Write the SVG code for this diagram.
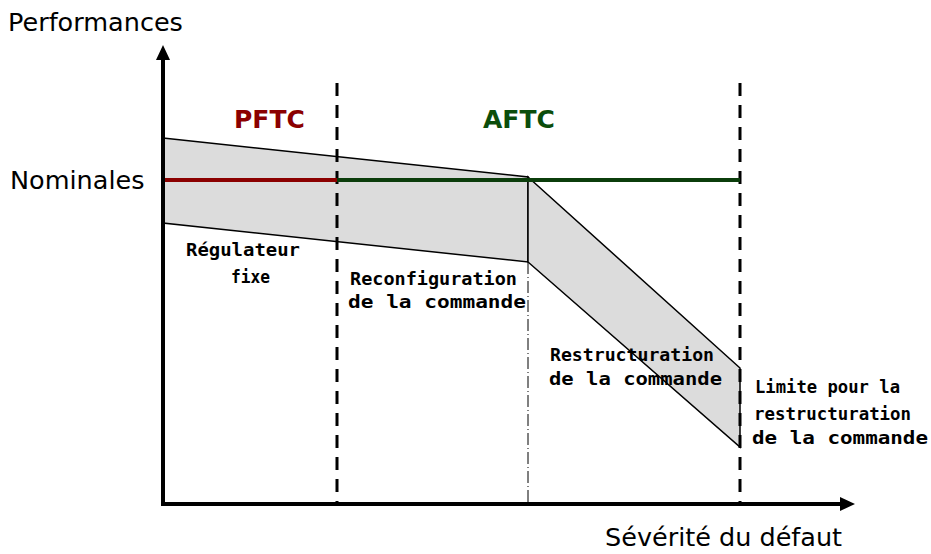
<svg xmlns="http://www.w3.org/2000/svg" width="931" height="554" viewBox="0 0 931 554">
<style>
.lbl{font-family:"DejaVu Sans",Verdana,sans-serif;font-size:25.5px;fill:#000}
.ttl{font-family:"DejaVu Sans",Verdana,sans-serif;font-size:25px;font-weight:bold}
.px{font-family:"DejaVu Sans Mono","Liberation Mono",monospace;font-size:17px;font-weight:bold;fill:#000}
.band{fill:#dcdcdc;stroke:#000;stroke-width:1.5}
.dash{stroke:#000;stroke-width:3;stroke-dasharray:13 9;fill:none}
</style>
<rect width="931" height="554" fill="#fff"/>
<g id="bands">
<polygon class="band" points="163,138 528,177 528,262 163,223"/>
<polygon class="band" points="528,177 740,368 740,447 528,262"/>
</g>
<g id="connectors">
<line class="dash" x1="337" y1="83" x2="337" y2="502"/>
<line class="dash" x1="740" y1="83" x2="740" y2="502"/>
<line x1="528" y1="262" x2="528" y2="502" stroke="#000" stroke-width="1" stroke-dasharray="12 3 1 3"/>
<line x1="163" y1="180" x2="337" y2="180" stroke="#8b0000" stroke-width="4"/>
<line x1="337" y1="180" x2="740" y2="180" stroke="#0b3d0b" stroke-width="4"/>
<line x1="163" y1="506" x2="163" y2="56" stroke="#000" stroke-width="4"/>
<path d="M156,60 L163,45 L170,60 z" fill="#000"/>
<line x1="161" y1="504" x2="842" y2="504" stroke="#000" stroke-width="4"/>
<path d="M840,497 L855,504 L840,511 z" fill="#000"/>
</g>
<g id="axis-labels">
<text class="lbl" x="8" y="31">Performances</text>
<text class="lbl" x="10" y="189">Nominales</text>
<text class="lbl" x="605" y="546">Sévérité du défaut</text>
</g>
<g id="pftc"><text class="ttl" x="234" y="128" fill="#8b0000">PFTC</text></g>
<g id="aftc"><text class="ttl" x="483" y="128" fill="#0b4d0b">AFTC</text></g>
<g id="regulateur">
<text class="px" x="186" y="256" textLength="114" lengthAdjust="spacingAndGlyphs">Régulateur</text>
<text class="px" x="231" y="283" textLength="39" lengthAdjust="spacingAndGlyphs">fixe</text>
</g>
<g id="reconfiguration">
<text class="px" x="350" y="285" textLength="167" lengthAdjust="spacingAndGlyphs">Reconfiguration</text>
<text class="px" x="348" y="308" textLength="178" lengthAdjust="spacingAndGlyphs">de la commande</text>
</g>
<g id="restructuration">
<text class="px" x="550" y="361" textLength="164" lengthAdjust="spacingAndGlyphs">Restructuration</text>
<text class="px" x="549" y="385" textLength="173" lengthAdjust="spacingAndGlyphs">de la commande</text>
</g>
<g id="limite">
<text class="px" x="755" y="393" textLength="145" lengthAdjust="spacingAndGlyphs">Limite pour la</text>
<text class="px" x="754" y="420" textLength="157" lengthAdjust="spacingAndGlyphs">restructuration</text>
<text class="px" x="752" y="444" textLength="176" lengthAdjust="spacingAndGlyphs">de la commande</text>
</g>
</svg>
